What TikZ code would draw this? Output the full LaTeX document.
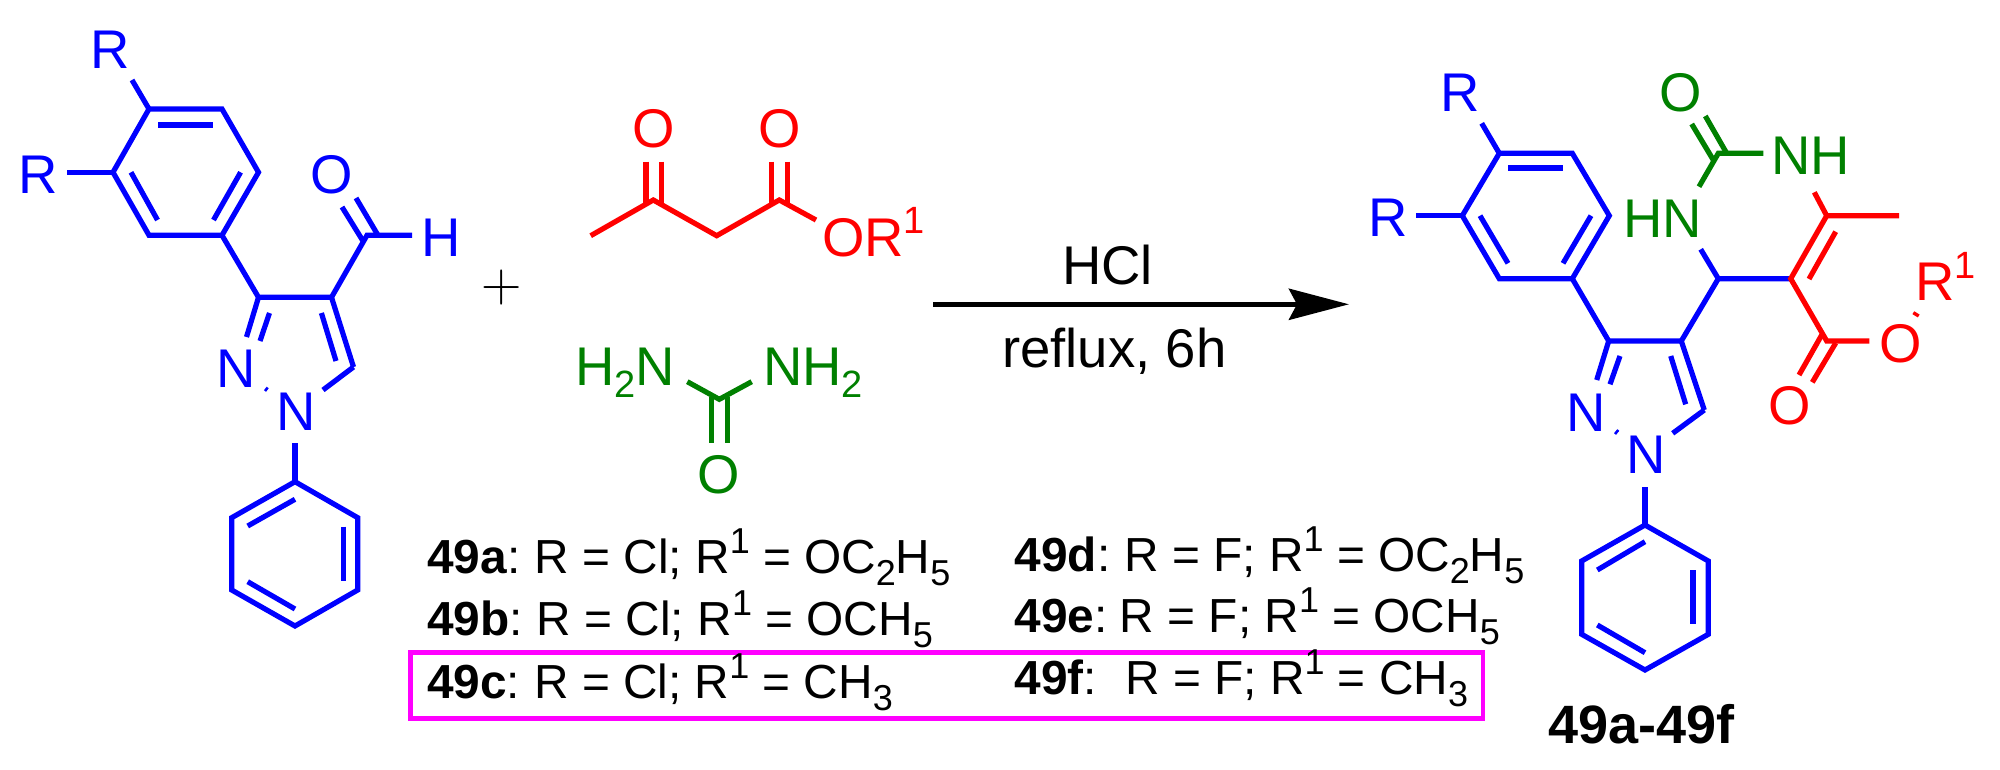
\documentclass[tikz,border=0pt]{standalone}
\usepackage{fontspec}
\setmainfont{Liberation Sans}
\newfontfamily\lmplus{Latin Modern Roman}
\usetikzlibrary{arrows.meta}
\newcommand{\chemfs}{\fontsize{54.5}{54.5}\selectfont}
\newcommand{\listfs}{\fontsize{47.8}{47.8}\selectfont}
\newcommand{\chemsup}[1]{\raisebox{22pt}{\fontsize{38}{38}\selectfont #1}}
\newcommand{\chemsub}[1]{\raisebox{-12pt}{\fontsize{38}{38}\selectfont #1}}
\newcommand{\listsup}[1]{\raisebox{20pt}{\fontsize{36}{36}\selectfont #1}}
\newcommand{\listsub}[1]{\raisebox{-12pt}{\fontsize{36}{36}\selectfont #1}}
\definecolor{chemblue}{HTML}{0000FF}
\definecolor{chemred}{HTML}{FF0000}
\definecolor{chemgreen}{HTML}{008000}
\definecolor{boxmag}{HTML}{FF00FF}
\tikzset{
  bond/.style={line width=5.2pt,line join=miter,line cap=butt},
  bbond/.style={bond,draw=chemblue},
  rbond/.style={bond,draw=chemred},
  gbond/.style={bond,draw=chemgreen},
  atom/.style={inner sep=0pt,anchor=base,font=\chemfs},
  atomw/.style={inner sep=0pt,anchor=base west,font=\chemfs},
  batom/.style={atom,text=chemblue},
  ratom/.style={atom,text=chemred},
  gatom/.style={atom,text=chemgreen},
  ratomw/.style={atomw,text=chemred},
  gatomw/.style={atomw,text=chemgreen},
  listline/.style={inner sep=0pt,anchor=base west,font=\listfs,text=black},
  blacktext/.style={inner sep=0pt,anchor=base west,font=\chemfs,text=black},
}
\begin{document}
\begin{tikzpicture}[x=1pt,y=-1pt]
\useasboundingbox (0,0) rectangle (2000,770);
\fill[white] (0,0) rectangle (2000,770);

% ---------- left molecule ----------
\coordinate (a) at (149,109); \coordinate (b) at (222,109);
\coordinate (c) at (258.5,172.3); \coordinate (d) at (222,235.3);
\coordinate (e) at (149,235.3); \coordinate (f) at (113,172.3);
\draw[bbond] (a)--(b)--(c)--(d)--(e)--(f)--cycle;
\coordinate (a1) at (158,125); \coordinate (b1) at (213,125);
\coordinate (f1) at (131,172.3); \coordinate (e1) at (157.5,220);
\coordinate (c1) at (240.6,172.3); \coordinate (d1) at (213.5,220);
\draw[bbond] (a1)--(b1); \draw[bbond] (f1)--(e1); \draw[bbond] (c1)--(d1);
\node[batom] (Rtop) at (110,68.3) {R};
\node[batom] (Rleft) at (38,194) {R};
\coordinate (Rtopend) at (132,80); \coordinate (Rleftend) at (66.5,172.3);
\draw[bbond] (a)--(Rtopend); \draw[bbond] (f)--(Rleftend);
\coordinate (C3) at (258.5,297.3); \coordinate (C4) at (331.5,297.3);
\coordinate (C5) at (353.5,367); \coordinate (CHO) at (367,235.3);
\coordinate (Hend) at (412,235.3);
\draw[bbond] (d)--(C3)--(C4)--(C5);
\draw[bbond] (C4)--(CHO)--(Hend);
\coordinate (dbO1a) at (378,235.3); \coordinate (dbO1b) at (356,198);
\coordinate (dbO2a) at (363,241); \coordinate (dbO2b) at (342,207);
\draw[bbond] (dbO1a)--(dbO1b); \draw[bbond] (dbO2a)--(dbO2b);
\node[batom] (Oald) at (331.5,193.7) {O};
\node[batom] (Hald) at (441,256) {H};
\node[batom] (N2) at (236.5,387.7) {N};
\node[batom] (N1) at (296,430) {N};
\coordinate (C4i) at (321.4,313); \coordinate (C5i) at (336,361);
\draw[bbond] (C4i)--(C5i);
\coordinate (N2a) at (246.5,337); \coordinate (C3i) at (269.5,313);
\coordinate (N2i) at (260,341);
\draw[bbond] (C3)--(N2a); \draw[bbond] (C3i)--(N2i);
\coordinate (N1a) at (323,390);
\draw[bbond] (C5)--(N1a);
\coordinate (nna) at (265,391); \coordinate (nnb) at (267.7,387.5);
\draw[bbond,line width=2.6pt] (nna)--(nnb);
\coordinate (N1b) at (295,443); \coordinate (pt) at (295,481.7);
\draw[bbond] (N1b)--(pt);
\coordinate (pur) at (357.7,517.7); \coordinate (plr) at (357.7,590);
\coordinate (pb) at (295,626); \coordinate (pll) at (231.7,590);
\coordinate (pul) at (231.7,517.7);
\draw[bbond] (pt)--(pur)--(plr)--(pb)--(pll)--(pul)--cycle;
\coordinate (pi1) at (295,499.3); \coordinate (pi2) at (247.7,526);
\coordinate (pi3) at (343.3,526.7); \coordinate (pi4) at (343.3,581);
\coordinate (pi5) at (247.7,581.7); \coordinate (pi6) at (295,609);
\draw[bbond] (pi1)--(pi2); \draw[bbond] (pi3)--(pi4); \draw[bbond] (pi5)--(pi6);

% plus
\node[inner sep=0pt,anchor=center] (plus) at (501.4,287.5) {\fontsize{56}{56}\lmplus +};

% ---------- acetoacetate ----------
\coordinate (m1) at (590.7,235.7); \coordinate (k1) at (653.3,200);
\coordinate (ch2) at (716.7,235.7); \coordinate (k2) at (779.3,200);
\coordinate (oe) at (816,220);
\draw[rbond] (m1)--(k1)--(ch2)--(k2)--(oe);
\coordinate (k1a) at (646,161.7); \coordinate (k1b) at (646,203);
\coordinate (k1c) at (661.5,161.7); \coordinate (k1d) at (661.5,203);
\coordinate (k2a) at (771.7,161.7); \coordinate (k2b) at (771.7,203);
\coordinate (k2c) at (787.3,161.7); \coordinate (k2d) at (787.3,203);
\draw[rbond] (k1a)--(k1b); \draw[rbond] (k1c)--(k1d);
\draw[rbond] (k2a)--(k2b); \draw[rbond] (k2c)--(k2d);
\node[ratom] (O1) at (653.3,147.5) {O};
\node[ratom] (O2) at (779.3,147.5) {O};
\node[ratomw] (OR) at (822,256) {OR\chemsup{1}};

% ---------- urea ----------
\coordinate (uc) at (719.3,399.3); \coordinate (unl) at (687.3,381.7);
\coordinate (unr) at (751.7,381.7);
\draw[gbond] (unl)--(uc)--(unr);
\coordinate (uo1) at (711.7,397); \coordinate (uo2) at (711.7,443.3);
\coordinate (uo3) at (727.3,397); \coordinate (uo4) at (727.3,443.3);
\draw[gbond] (uo1)--(uo2); \draw[gbond] (uo3)--(uo4);
\node[gatomw] (H2N) at (575,385) {H\chemsub{2}N};
\node[gatomw] (NH2) at (763,385) {NH\chemsub{2}};
\node[gatom] (Ou) at (719,493) {O};

% ---------- arrow ----------
\coordinate (arrS) at (933.3,304.3); \coordinate (arrE) at (1349,304.3);
\draw[line width=5.5pt,-{Stealth[length=60pt,width=31pt,inset=8pt]},black] (arrS)--(arrE);
\node[blacktext] (hcl) at (1062,284.3) {HCl};
\node[blacktext] (reflux) at (1002,367.3) {reflux, 6h};

% ---------- product ----------
\coordinate (pa) at (1499.3,153.3); \coordinate (pbb) at (1572.3,153.3);
\coordinate (pc) at (1609.3,215.7); \coordinate (pd) at (1572.3,278.7);
\coordinate (pe) at (1499.3,278.7); \coordinate (pf) at (1462.3,215.7);
\draw[bbond] (pa)--(pbb)--(pc)--(pd)--(pe)--(pf)--cycle;
\coordinate (pa1) at (1508,168); \coordinate (pb1) at (1563,168);
\coordinate (pf1) at (1480,215.7); \coordinate (pe1) at (1508,263.3);
\coordinate (pc1) at (1591,215.7); \coordinate (pd1) at (1563,263.3);
\draw[bbond] (pa1)--(pb1); \draw[bbond] (pf1)--(pe1); \draw[bbond] (pc1)--(pd1);
\node[batom] (PRtop) at (1460,111.7) {R};
\node[batom] (PRleft) at (1388,236.7) {R};
\coordinate (PRte) at (1481.7,123.3); \coordinate (PRle) at (1416,215.7);
\draw[bbond] (pa)--(PRte); \draw[bbond] (pf)--(PRle);
\coordinate (PC3) at (1608.7,341); \coordinate (PC4) at (1681.3,341);
\coordinate (PC5) at (1704.3,410); \coordinate (PC6) at (1718.3,278.7);
\coordinate (PC7) at (1790.7,278.7);
\draw[bbond] (pd)--(PC3)--(PC4)--(PC5);
\draw[bbond] (PC4)--(PC6)--(PC7);
\coordinate (PC4i) at (1670.7,356); \coordinate (PC5i) at (1685.7,404.3);
\draw[bbond] (PC4i)--(PC5i);
\coordinate (PN2a) at (1596.7,380); \coordinate (PC3i) at (1620,356);
\coordinate (PN2i) at (1610,384.3);
\draw[bbond] (PC3)--(PN2a); \draw[bbond] (PC3i)--(PN2i);
\node[batom] (PN2) at (1586,431) {N};
\node[batom] (PN1) at (1645.7,473.3) {N};
\coordinate (PN1a) at (1672.7,433.3);
\draw[bbond] (PC5)--(PN1a);
\coordinate (pnna) at (1615,434); \coordinate (pnnb) at (1618.3,430);
\draw[bbond,line width=2.6pt] (pnna)--(pnnb);
\coordinate (PN1b) at (1645,487.3); \coordinate (qt) at (1645,525);
\draw[bbond] (PN1b)--(qt);
\coordinate (qur) at (1708.3,561); \coordinate (qlr) at (1708.3,634.3);
\coordinate (qb) at (1645,670); \coordinate (qll) at (1581.7,634.3);
\coordinate (qul) at (1581.7,561);
\draw[bbond] (qt)--(qur)--(qlr)--(qb)--(qll)--(qul)--cycle;
\coordinate (qi1) at (1645,541.7); \coordinate (qi2) at (1597.3,570);
\coordinate (qi3) at (1693,570); \coordinate (qi4) at (1693,624.3);
\coordinate (qi5) at (1597.3,625); \coordinate (qi6) at (1645,652.7);
\draw[bbond] (qi1)--(qi2); \draw[bbond] (qi3)--(qi4); \draw[bbond] (qi5)--(qi6);

% green part of product
\coordinate (PNHa) at (1700.7,249.3);
\draw[bbond] (PC6)--(PNHa);
\coordinate (PHNb) at (1699,186.7); \coordinate (PU) at (1718.3,153.3);
\coordinate (PNHe) at (1763.3,153.3);
\draw[gbond] (PHNb)--(PU)--(PNHe);
\coordinate (PUo1) at (1726.7,153.3); \coordinate (PUo2) at (1705.3,116);
\coordinate (PUo3) at (1713.3,160); \coordinate (PUo4) at (1691.7,124);
\draw[gbond] (PUo1)--(PUo2); \draw[gbond] (PUo3)--(PUo4);
\node[gatom] (PO) at (1681,111.3) {O};
\node[gatomw] (PHN) at (1623,237.3) {HN};
\node[gatomw] (PNH) at (1771,174.3) {NH};

% red part of product
\coordinate (PR4) at (1826.7,215.7); \coordinate (PRNH) at (1814.3,192.3);
\coordinate (PRm) at (1899,215.7); \coordinate (PRe) at (1826.7,341);
\coordinate (PRo) at (1869.3,341);
\draw[rbond] (PRNH)--(PR4)--(PRm);
\draw[rbond] (PR4)--(PC7)--(PRe)--(PRo);
\coordinate (PRi1) at (1835.7,231.7); \coordinate (PRi2) at (1809,279);
\draw[rbond] (PRi1)--(PRi2);
\coordinate (PRd1) at (1835.7,343); \coordinate (PRd2) at (1812.3,382.3);
\coordinate (PRd3) at (1821.7,335); \coordinate (PRd4) at (1799,375);
\draw[rbond] (PRd1)--(PRd2); \draw[rbond] (PRd3)--(PRd4);
\node[ratom] (POd) at (1790,424.5) {O};
\node[ratom] (POe) at (1901,362) {O};
\node[ratomw] (PR1) at (1915,300) {R\chemsup{1}};
\coordinate (PRda) at (1913.3,312.7); \coordinate (PRdb) at (1918.7,316);
\draw[rbond,line width=3.4pt] (PRda)--(PRdb);

% ---------- list ----------
\coordinate (boxa) at (410.7,652.7); \coordinate (boxb) at (1483,718.3);
\draw[boxmag,line width=4.7pt] (boxa) rectangle (boxb);
\node[listline] (t49a) at (427,573.3) {\textbf{49a}:\hspace{14pt}R = Cl; R\listsup{1} = OC\listsub{2}H\listsub{5}};
\node[listline] (t49b) at (427,635.7) {\textbf{49b}:\hspace{14pt}R = Cl; R\listsup{1} = OCH\listsub{5}};
\node[listline] (t49c) at (427,698.3) {\textbf{49c}:\hspace{14pt}R = Cl; R\listsup{1} = CH\listsub{3}};
\node[listline] (t49d) at (1014.6,571) {\textbf{49d}:\hspace{14pt}R = F; R\listsup{1} = OC\listsub{2}H\listsub{5}};
\node[listline] (t49e) at (1014.6,632.3) {\textbf{49e}:\hspace{12pt}R = F; R\listsup{1} = OCH\listsub{5}};
\node[listline] (t49f) at (1014.6,694) {\textbf{49f}:\hspace{28pt}R = F; R\listsup{1} = CH\listsub{3}};
\node[blacktext,font=\fontsize{54}{54}\selectfont\bfseries] (title) at (1548,743) {49a-49f};
\end{tikzpicture}
\end{document}
